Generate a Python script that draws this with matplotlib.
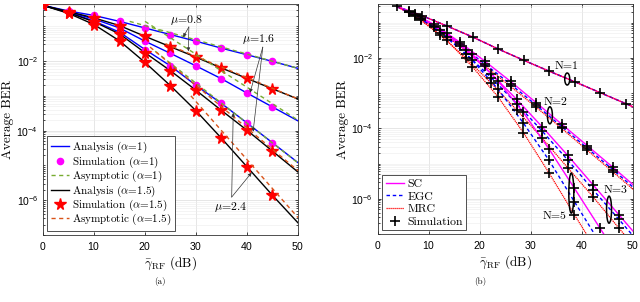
import numpy as np
import matplotlib
matplotlib.use("Agg")
import matplotlib.pyplot as plt
from matplotlib.ticker import FixedLocator, FuncFormatter, LogLocator, NullFormatter
from matplotlib.patches import Ellipse
from matplotlib.lines import Line2D

plt.rcParams['font.family'] = ['Liberation Sans', 'DejaVu Sans']
plt.rcParams['mathtext.fontset'] = 'cm'
plt.rcParams['axes.formatter.use_mathtext'] = True
SERIF = 'cmr10'

# ---------------- Panel (a) data (log10 BER) ----------------
snr_a = [0, 5, 10, 15, 20, 25, 30, 35, 40, 45, 50]
a1_mu08 = [-0.4, -0.56, -0.69, -0.86, -1.05, -1.24, -1.43, -1.63, -1.82, -2.01, -2.21]
a1_mu16 = [-0.4, -0.59, -0.79, -1.05, -1.43, -1.78, -2.14, -2.51, -2.92, -3.32, -3.72]
a1_mu24 = [-0.4, -0.60, -0.85, -1.17, -1.67, -2.14, -2.70, -3.22, -3.78, -4.35, -4.92]
a15_mu08 = [-0.4, -0.58, -0.76, -0.98, -1.29, -1.59, -1.89, -2.20, -2.50, -2.80, -3.09]
a15_mu16 = [-0.4, -0.61, -0.87, -1.22, -1.76, -2.28, -2.84, -3.42, -3.99, -4.59, -5.19]
a15_mu24 = [-0.4, -0.63, -0.95, -1.42, -2.04, -2.71, -3.43, -4.22, -5.04, -5.86, -6.65]
# asymptotes: (x_start, x_end), (log_start, log_end)
asym_a1 = {'0.8': ([17, 50], [-0.86, -2.21]),
           '1.6': ([20, 50], [-0.86, -3.70]),
           '2.4': ([22, 50], [-1.72, -4.93])}
asym_a15 = {'0.8': ([24, 50], [-1.50, -3.09]),
            '1.6': ([21, 50], [-1.60, -5.15]),
            '2.4': ([29, 50], [-3.00, -6.50])}
legend_a = ['Analysis ($\\alpha$=1)', 'Simulation ($\\alpha$=1)', 'Asymptotic ($\\alpha$=1)',
            'Analysis ($\\alpha$=1.5)', 'Simulation ($\\alpha$=1.5)', 'Asymptotic ($\\alpha$=1.5)']

# ---------------- Panel (b) data (log10 BER) ----------------
x_n1 = [3.7, 8.6, 13.6, 18.6, 23.6, 28.6, 33.6, 38.6, 43.6, 48.6, 50]
n1 = [-0.54, -0.80, -1.10, -1.41, -1.75, -2.07, -2.38, -2.68, -2.99, -3.30, -3.39]
x_n2 = [3.7, 6.1, 11, 16, 21, 26, 31, 36, 41, 46, 50]
n2_sc = [-0.54, -0.68, -1.05, -1.55, -2.10, -2.67, -3.27, -3.88, -4.49, -5.10, -5.60]
n2_egc = [-0.54, -0.70, -1.10, -1.62, -2.18, -2.75, -3.34, -3.95, -4.56, -5.17, -5.67]
n2_mrc = [-0.54, -0.71, -1.13, -1.66, -2.23, -2.81, -3.40, -4.00, -4.62, -5.23, -5.73]
x_n3 = [3.7, 7.2, 12.2, 17.2, 22.2, 27.2, 32.2, 37.2, 42.2, 47.2, 50]
n3_sc = [-0.54, -0.75, -1.20, -1.78, -2.45, -3.18, -3.96, -4.77, -5.61, -6.45, -6.92]
n3_egc = [-0.54, -0.78, -1.28, -1.88, -2.56, -3.30, -4.08, -4.90, -5.75, -6.58, -7.05]
n3_mrc = [-0.54, -0.80, -1.35, -2.00, -2.72, -3.48, -4.28, -5.12, -5.95, -6.83, -7.30]
x_n5 = [3.7, 8.5, 13.5, 18.5, 23.5, 28.5, 33.5, 38.5, 43.5, 48.5]
n5_sc = [-0.54, -0.87, -1.30, -1.90, -2.65, -3.55, -4.58, -5.70, -6.83, -7.95]
n5_egc = [-0.54, -0.90, -1.40, -2.07, -2.88, -3.85, -4.90, -6.08, -7.25, -8.40]
n5_mrc = [-0.54, -0.93, -1.50, -2.25, -3.10, -4.12, -5.26, -6.45, -7.62, -8.80]
legend_b = ['SC', 'EGC', 'MRC', 'Simulation']
n_labels = ['N=1', 'N=2', 'N=3', 'N=5']
n_label_pos = [(37.0, -2.23), (34.8, -3.26), (46.6, -5.75), (34.7, -6.5)]
n_ellipse = [(37.1, -2.6, 12), (33.7, -3.63, 17), (45.3, -6.31, 27), (37.9, -5.84, 40)]

BLUE = '#0000ff'
MAG = '#ff00ff'
GREEN = '#77AC30'
ORANGE = '#D95319'
RED = '#ff0000'

fig = plt.figure(figsize=(6.4, 3.02), dpi=100)
axA = fig.add_axes([0.0672, 0.2219, 0.3984, 0.7649])
axB = fig.add_axes([0.5906, 0.2252, 0.3985, 0.7616])

def p(v):
    return 10 ** np.asarray(v, dtype=float)

def style_axis(ax, ytop):
    ax.set_yscale('log')
    ax.set_xlim(0, 50)
    ax.set_ylim(1e-7, ytop)
    ax.set_xticks([0, 10, 20, 30, 40, 50])
    ax.yaxis.set_major_locator(FixedLocator([1e-6, 1e-4, 1e-2]))
    ax.yaxis.set_major_formatter(FuncFormatter(
        lambda v, pos: r'$\mathdefault{10^{%d}}$' % int(round(np.log10(v)))))
    ax.yaxis.set_minor_locator(LogLocator(base=10, subs=np.arange(1, 10), numticks=30))
    ax.yaxis.set_minor_formatter(NullFormatter())
    ax.grid(True, which='major', color='#dcdcdc', lw=0.5)
    ax.grid(True, which='minor', axis='y', color='#ececec', lw=0.4)
    ax.set_axisbelow(True)
    ax.tick_params(which='both', direction='in', top=True, right=True, labelsize=7.5,
                   length=2.5, width=0.5)
    ax.tick_params(which='minor', length=1.5)
    for s in ax.spines.values():
        s.set_linewidth(0.6)
        s.set_color('#333333')
    ax.set_xlabel(r'$\bar{\gamma}_{\rm RF}$ (dB)', fontfamily=SERIF, fontsize=9.5, labelpad=2)
    ax.set_ylabel('Average BER', fontfamily=SERIF, fontsize=9.5, labelpad=2)

# ---------------- Panel (a) ----------------
ax = axA
style_axis(ax, 10 ** -0.36)
mk = slice(0, 10)
xa = np.array(snr_a)
for curve in [a1_mu08, a1_mu16, a1_mu24]:
    ax.plot(xa, p(curve), color=BLUE, lw=1.0, zorder=3)
    ax.plot(xa[mk], p(curve)[mk], ls='none', marker='o', ms=4.5, color=MAG, zorder=4)
for curve in [a15_mu08, a15_mu16, a15_mu24]:
    ax.plot(xa, p(curve), color='k', lw=1.0, zorder=3)
    ax.plot(xa[mk], p(curve)[mk], ls='none', marker='*', ms=8.5, color=RED, zorder=4)
for k, (xs, ys) in asym_a1.items():
    ax.plot(xs, p(ys), color=GREEN, lw=1.0, ls=(0, (3, 2.5)), zorder=5)
for k, (xs, ys) in asym_a15.items():
    ax.plot(xs, p(ys), color=ORANGE, lw=1.0, ls=(0, (3, 2.5)), zorder=5)

# annotations
arrow_kw = dict(arrowstyle='-|>', lw=0.5, color='#333333', mutation_scale=5,
                shrinkA=0, shrinkB=0)
ax.text(28.2, 10 ** -0.83, r'$\mu$=0.8', fontfamily=SERIF, fontsize=8.5, ha='center', va='center', zorder=6)
for tip in [(27.5, -1.31), (28.5, -1.72)]:
    ax.annotate('', xy=(tip[0], 10 ** tip[1]), xytext=(28.6, 10 ** -1.02), arrowprops=arrow_kw, zorder=6)
ax.text(42.2, 10 ** -1.38, r'$\mu$=1.6', fontfamily=SERIF, fontsize=8.5, ha='center', va='center', zorder=6)
for tip in [(40.6, -2.91), (41.2, -4.03)]:
    ax.annotate('', xy=(tip[0], 10 ** tip[1]), xytext=(43.1, 10 ** -1.6), arrowprops=arrow_kw, zorder=6)
ax.text(36.7, 10 ** -6.2, r'$\mu$=2.4', fontfamily=SERIF, fontsize=8.5, ha='center', va='center', zorder=6)
for tip in [(37.3, -3.49), (40.9, -5.21)]:
    ax.annotate('', xy=(tip[0], 10 ** tip[1]), xytext=(37.0, 10 ** -5.91), arrowprops=arrow_kw, zorder=6)

hA = [Line2D([], [], color=BLUE, lw=1.0),
      Line2D([], [], ls='none', marker='o', ms=4.5, color=MAG),
      Line2D([], [], color=GREEN, lw=1.0, ls=(0, (3, 2.5))),
      Line2D([], [], color='k', lw=1.0),
      Line2D([], [], ls='none', marker='*', ms=8.5, color=RED),
      Line2D([], [], color=ORANGE, lw=1.0, ls=(0, (3, 2.5)))]
legA = ax.legend(hA, legend_a, loc='lower left', bbox_to_anchor=(0.016, 0.016),
                 prop={'family': SERIF, 'size': 8}, handlelength=1.6, handletextpad=0.25,
                 labelspacing=-0.08, borderpad=0.35, borderaxespad=0.0, fancybox=False,
                 framealpha=1, edgecolor='#333333')
legA.get_frame().set_linewidth(0.6)
legA.set_zorder(10)

# ---------------- Panel (b) ----------------
ax = axB
style_axis(ax, 10 ** -0.47)
ax.plot(x_n1, p(n1), color=MAG, lw=1.0, zorder=3)
ax.plot(x_n1, p(n1), color=BLUE, lw=1.0, ls=(0, (2.5, 2)), zorder=3)
ax.plot(x_n1, p(n1), color=RED, lw=0.9, ls=(0, (1, 0.6)), zorder=3)
ax.plot(x_n1[:-1], p(n1)[:-1], ls='none', marker='+', ms=7, mew=1.2, color='k', zorder=5)
for xs, sc, egc, mrc in [(x_n2, n2_sc, n2_egc, n2_mrc), (x_n3, n3_sc, n3_egc, n3_mrc),
                         (x_n5, n5_sc, n5_egc, n5_mrc)]:
    xs = np.array(xs)
    ax.plot(xs, p(sc), color=MAG, lw=1.0, zorder=3)
    ax.plot(xs, p(egc), color=BLUE, lw=1.0, ls=(0, (2.5, 2)), zorder=3)
    ax.plot(xs, p(mrc), color=RED, lw=0.9, ls=(0, (1, 0.6)), zorder=3)
    n = len(xs) - 1 if xs[-1] == 50 else len(xs)
    for c in (sc, egc, mrc):
        ax.plot(xs[1:n], p(c)[1:n], ls='none', marker='+', ms=7, mew=1.2, color='k', zorder=5)

for lbl, (tx, ty) in zip(n_labels, n_label_pos):
    ax.text(tx, 10 ** ty, lbl, fontfamily=SERIF, fontsize=8.5, ha='center', va='center', zorder=6)
fig.canvas.draw()
bbox = ax.get_window_extent()
for (ex, ey, hpx) in n_ellipse:
    cx, cy = ax.transAxes.inverted().transform(ax.transData.transform((ex, 10 ** ey)))
    ax.add_patch(Ellipse((cx, cy), width=5.0 / bbox.width, height=hpx / bbox.height,
                         transform=ax.transAxes, fill=False, ec='k', lw=1.1, zorder=6))

hB = [Line2D([], [], color=MAG, lw=1.0),
      Line2D([], [], color=BLUE, lw=1.0, ls=(0, (2.5, 2))),
      Line2D([], [], color=RED, lw=0.9, ls=(0, (1, 0.6))),
      Line2D([], [], ls='none', marker='+', ms=7, mew=1.2, color='k')]
legB = ax.legend(hB, legend_b, loc='lower left', bbox_to_anchor=(0.016, 0.016),
                 prop={'family': SERIF, 'size': 8.5}, handlelength=1.6, handletextpad=0.25,
                 labelspacing=0.2, borderpad=0.3, borderaxespad=0.0, fancybox=False,
                 framealpha=1, edgecolor='#333333')
legB.get_frame().set_linewidth(0.6)
legB.set_zorder(10)

fig.text(0.25, 1 - 282 / 302, '(a)', fontfamily=SERIF, fontsize=6.5, ha='center', va='center')
fig.text(0.75, 1 - 282 / 302, '(b)', fontfamily=SERIF, fontsize=6.5, ha='center', va='center')

fig.savefig('out.png', dpi=100)
